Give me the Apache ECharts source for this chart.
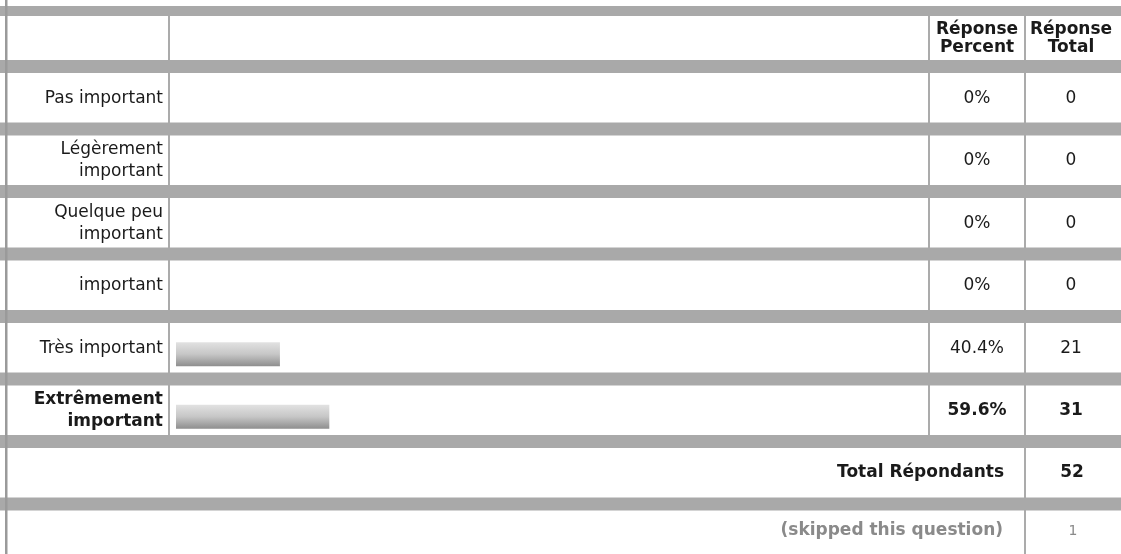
<!DOCTYPE html>
<html>
<head>
<meta charset="utf-8">
<script src="https://cdn.jsdelivr.net/npm/echarts@6/dist/echarts.min.js"></script>
<style>
html,body{margin:0;padding:0;background:#fff;}
#chart{width:1121px;height:554px;}
</style>
</head>
<body>
<div id="chart"></div>
<script>
// ---- data ----
const categories = ['Pas important', 'Légèrement important', 'Quelque peu important', 'important', 'Très important', 'Extrêmement important'];
const percents = [0, 0, 0, 0, 40.4, 59.6];
const totals = [0, 0, 0, 0, 21, 31];
const headerPercent = ['Réponse', 'Percent'];
const headerTotal = ['Réponse', 'Total'];
const totalLabel = 'Total Répondants';
const totalRespondents = 52;
const skippedLabel = '(skipped this question)';
const skippedCount = 1;
const boldRow = 5;

// ---- layout ----
const FONT = '"DejaVu Sans", Verdana, sans-serif';
const TXT = '#1a1a1a';
const BAND = '#a9a9a9';
const LINE = '#8f8f8f';
const gridTop = 73, gridBottomY = 448, pitch = 62.5;

function wrap(s) { return s.length > 14 ? s.replace(/ (?=\S+$)/, '\n') : s; }
function tagLines(s, tag) { return s.split('\n').map(l => '{' + tag + '|' + l + '}').join('\n'); }
function pct(v) { return v === 0 ? '0%' : v.toFixed(1) + '%'; }

const rich = {
  n: { fontSize: 17, fontFamily: FONT, color: TXT, lineHeight: 22 },
  b: { fontSize: 17, fontFamily: FONT, color: TXT, lineHeight: 22, fontWeight: 'bold' }
};

const graphic = [];
// vertical column lines (under the gray bands)
[[169, 16, gridBottomY], [929, 16, gridBottomY], [1025, 16, 554]].forEach(([x, y1, y2]) => {
  graphic.push({ type: 'rect', z: 1, silent: true, shape: { x: x - 0.75, y: y1, width: 1.5, height: y2 - y1 }, style: { fill: LINE } });
});
// gray separator bands
graphic.push({ type: 'rect', z: 2, silent: true, shape: { x: 0, y: 6, width: 1121, height: 10 }, style: { fill: BAND } });
for (let k = 0; k < 8; k++) {
  graphic.push({ type: 'rect', z: 2, silent: true, shape: { x: 0, y: 60 + pitch * k, width: 1121, height: 13 }, style: { fill: BAND } });
}
// left border
graphic.push({ type: 'rect', z: 3, silent: true, shape: { x: 5, y: 0, width: 2.5, height: 554 }, style: { fill: '#9a9a9a' } });
// headers
graphic.push({ type: 'text', z: 4, x: 977, y: 38.5, style: { text: headerPercent.join('\n'), fontSize: 17, fontWeight: 'bold', fontFamily: FONT, fill: TXT, align: 'center', verticalAlign: 'middle', lineHeight: 17.5 } });
graphic.push({ type: 'text', z: 4, x: 1071, y: 38.5, style: { text: headerTotal.join('\n'), fontSize: 17, fontWeight: 'bold', fontFamily: FONT, fill: TXT, align: 'center', verticalAlign: 'middle', lineHeight: 17.5 } });
// total rows
graphic.push({ type: 'text', z: 4, x: 1004, y: 473, style: { text: totalLabel, fontSize: 17, fontWeight: 'bold', fontFamily: FONT, fill: TXT, align: 'right', verticalAlign: 'middle' } });
graphic.push({ type: 'text', z: 4, x: 1072, y: 473, style: { text: String(totalRespondents), fontSize: 17, fontWeight: 'bold', fontFamily: FONT, fill: TXT, align: 'center', verticalAlign: 'middle' } });
graphic.push({ type: 'text', z: 4, x: 1003, y: 531, style: { text: skippedLabel, fontSize: 17, fontWeight: 'bold', fontFamily: FONT, fill: '#8a8a8a', align: 'right', verticalAlign: 'middle' } });
graphic.push({ type: 'text', z: 4, x: 1073, y: 531, style: { text: String(skippedCount), fontSize: 14, fontFamily: FONT, fill: '#8a8a8a', align: 'center', verticalAlign: 'middle' } });

function sideAxis(values, offset) {
  return {
    type: 'category', data: categories, inverse: true, position: 'right', offset: offset,
    axisLine: { show: false }, axisTick: { show: false }, splitLine: { show: false },
    axisLabel: {
      margin: 55, align: 'center', padding: [0, 0, 12, 0],
      formatter: (v, i) => tagLines(values[i], i === boldRow ? 'b' : 'n'), rich: rich
    }
  };
}

const chart = echarts.init(document.getElementById('chart'), null, { renderer: 'canvas' });
chart.setOption({
  animation: false,
  backgroundColor: '#fff',
  grid: { left: 176, right: 199, top: gridTop, bottom: 554 - gridBottomY, containLabel: false },
  xAxis: { type: 'value', min: 0, max: 290, show: false },
  yAxis: [
    {
      type: 'category', data: categories, inverse: true,
      axisLine: { show: false }, axisTick: { show: false }, splitLine: { show: false },
      axisLabel: {
        margin: 13, align: 'right', padding: [0, 0, 12, 0],
        formatter: (v, i) => tagLines(wrap(v), i === boldRow ? 'b' : 'n'), rich: rich
      }
    },
    sideAxis(percents.map(pct), 0),
    sideAxis(totals.map(String), 94)
  ],
  series: [{
    type: 'bar', data: percents, barWidth: 24, silent: true, z: 5,
    itemStyle: {
      color: new echarts.graphic.LinearGradient(0, 0, 0, 1, [
        { offset: 0, color: '#e2e2e2' },
        { offset: 0.5, color: '#c6c6c6' },
        { offset: 1, color: '#8e8e8e' }
      ])
    }
  }],
  graphic: graphic
});
</script>
</body>
</html>
